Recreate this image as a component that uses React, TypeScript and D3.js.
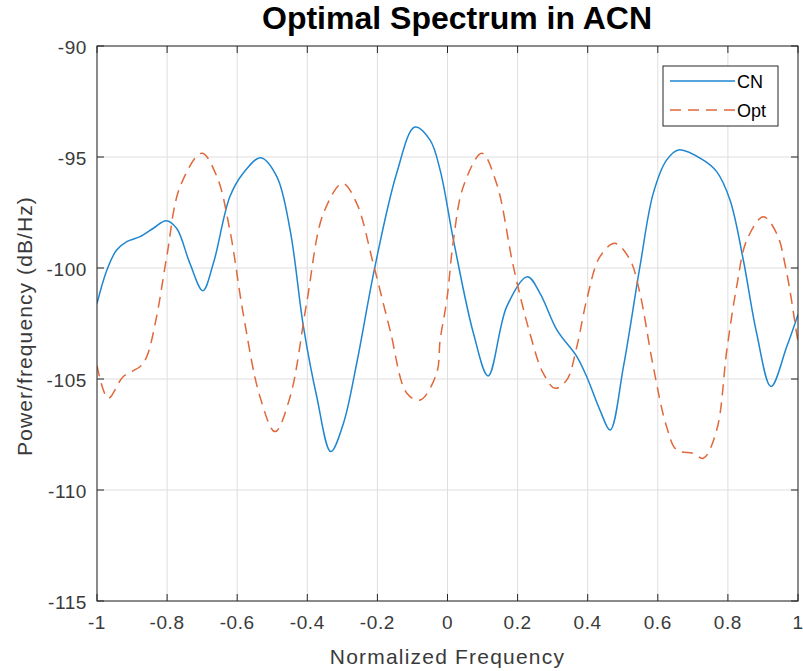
import React from "react";
import * as d3 from "d3";

const xTicks = [-1, -0.8, -0.6, -0.4, -0.2, 0, 0.2, 0.4, 0.6, 0.8, 1];
const yTicks = [-115, -110, -105, -100, -95, -90];

const cnFreq = [-1, -0.972, -0.944, -0.915, -0.877, -0.839, -0.803, -0.773, -0.735, -0.698, -0.668, -0.621, -0.583, -0.533, -0.487, -0.449, -0.411, -0.373, -0.333, -0.297, -0.259, -0.207, -0.145, -0.093, -0.05, -0.021, 0.017, 0.074, 0.116, 0.169, 0.228, 0.264, 0.312, 0.369, 0.397, 0.435, 0.464, 0.502, 0.549, 0.587, 0.625, 0.659, 0.73, 0.768, 0.806, 0.844, 0.882, 0.923, 0.968, 1];
const cnPower = [-101.6, -100.1, -99.19, -98.81, -98.59, -98.21, -97.87, -98.21, -99.79, -101.02, -99.79, -96.79, -95.73, -95.03, -95.88, -98.29, -102.64, -105.8, -108.27, -107.0, -104.29, -99.94, -95.73, -93.65, -94.23, -95.59, -98.74, -102.94, -104.86, -101.74, -100.39, -101.14, -102.79, -103.99, -104.89, -106.4, -107.3, -104.44, -99.94, -96.64, -95.14, -94.68, -95.14, -95.66, -96.94, -99.64, -102.94, -105.34, -103.54, -102.1];

const optFreq = [-1, -0.968, -0.925, -0.877, -0.858, -0.83, -0.801, -0.763, -0.701, -0.658, -0.621, -0.583, -0.535, -0.492, -0.449, -0.402, -0.354, -0.299, -0.259, -0.212, -0.164, -0.116, -0.078, -0.031, -0.021, -0.002, 0.017, 0.045, 0.098, 0.14, 0.188, 0.235, 0.273, 0.307, 0.34, 0.369, 0.397, 0.435, 0.478, 0.521, 0.549, 0.587, 0.625, 0.654, 0.701, 0.73, 0.768, 0.797, 0.825, 0.854, 0.901, 0.939, 0.968, 0.996, 1];
const optPower = [-104.4, -105.87, -104.89, -104.44, -103.99, -102.19, -99.49, -96.34, -94.83, -95.88, -98.29, -102.04, -105.8, -107.37, -105.8, -101.59, -97.54, -96.19, -97.09, -99.79, -102.79, -105.64, -105.95, -104.74, -103.24, -101.44, -98.74, -96.34, -94.83, -96.19, -99.94, -102.94, -104.74, -105.42, -105.05, -103.54, -101.44, -99.49, -98.89, -99.64, -101.14, -104.44, -107.14, -108.2, -108.35, -108.57, -107.3, -103.69, -100.84, -98.74, -97.69, -98.44, -100.24, -102.94, -103.3];

const seriesNames = ["CN", "Opt"];
const title = "Optimal Spectrum in ACN";
const xLabel = "Normalized Frequency";
const yLabel = "Power/frequency (dB/Hz)";

const W = 803, H = 671;
const L = 97, R = 798, T = 46, B = 601;
const FONT = "'Liberation Sans', Arial, Helvetica, sans-serif";
const AX = "#262626";
const TXT = "#3a3a3a";
const BLUE = "#1f86d0";
const ORANGE = "#e0683a";

export default function App() {
  const x = d3.scaleLinear().domain([-1, 1]).range([L, R]);
  const y = d3.scaleLinear().domain([-115, -90]).range([B, T]);
  const line = d3
    .line<[number, number]>()
    .x((d) => x(d[0]))
    .y((d) => y(d[1]))
    .curve(d3.curveCatmullRom.alpha(0.5));
  const cnData = cnFreq.map((f, i) => [f, cnPower[i]] as [number, number]);
  const optData = optFreq.map((f, i) => [f, optPower[i]] as [number, number]);
  const tl = 7;

  return (
    <svg
      width={W}
      height={H}
      style={{ position: "absolute", left: 0, top: 0, background: "#fff" }}
      fontFamily={FONT}
    >
      <rect x={0} y={0} width={W} height={H} fill="#fff" />
      <defs>
        <clipPath id="plotclip">
          <rect x={L} y={T} width={R - L} height={B - T} />
        </clipPath>
      </defs>
      {xTicks.map((t) => (
        <line key={"gx" + t} x1={x(t)} x2={x(t)} y1={T} y2={B} stroke="#dedede" strokeWidth={1} />
      ))}
      {yTicks.map((t) => (
        <line key={"gy" + t} x1={L} x2={R} y1={y(t)} y2={y(t)} stroke="#dedede" strokeWidth={1} />
      ))}
      <g clipPath="url(#plotclip)">
        <path d={line(cnData) || ""} fill="none" stroke={BLUE} strokeWidth={1.5} />
        <path d={line(optData) || ""} fill="none" stroke={ORANGE} strokeWidth={1.5} strokeDasharray="11,7" />
      </g>
      <rect x={L} y={T} width={R - L} height={B - T} fill="none" stroke={AX} strokeWidth={1} />
      {xTicks.map((t) => (
        <g key={"tx" + t}>
          <line x1={x(t)} x2={x(t)} y1={B} y2={B - tl} stroke={AX} />
          <line x1={x(t)} x2={x(t)} y1={T} y2={T + tl} stroke={AX} />
          <text x={x(t)} y={629} textAnchor="middle" fontSize={19} letterSpacing={0.6} fill={TXT}>
            {String(t)}
          </text>
        </g>
      ))}
      {yTicks.map((t) => (
        <g key={"ty" + t}>
          <line x1={L} x2={L + tl} y1={y(t)} y2={y(t)} stroke={AX} />
          <line x1={R} x2={R - tl} y1={y(t)} y2={y(t)} stroke={AX} />
          <text x={87} y={y(t) + 8} textAnchor="end" fontSize={19} letterSpacing={0.6} fill={TXT}>
            {String(t)}
          </text>
        </g>
      ))}
      <text x={457} y={29} textAnchor="middle" fontSize={32} fontWeight="bold" fill="#000">
        {title}
      </text>
      <text x={(L + R) / 2} y={664} textAnchor="middle" fontSize={21} letterSpacing={1.2} fill={TXT}>
        {xLabel}
      </text>
      <text
        transform={`translate(32,326) rotate(-90)`}
        textAnchor="middle"
        fontSize={21}
        letterSpacing={1.1}
        fill={TXT}
      >
        {yLabel}
      </text>
      <g>
        <rect x={663} y={66} width={115} height={60} fill="#fff" stroke={AX} strokeWidth={1} />
        <line x1={670} x2={735} y1={81} y2={81} stroke={BLUE} strokeWidth={1.5} />
        <line x1={670} x2={735} y1={110} y2={110} stroke={ORANGE} strokeWidth={1.5} strokeDasharray="11,7" />
        <text x={737} y={88} fontSize={18} fill="#000">{seriesNames[0]}</text>
        <text x={737} y={117} fontSize={18} fill="#000">{seriesNames[1]}</text>
      </g>
    </svg>
  );
}
